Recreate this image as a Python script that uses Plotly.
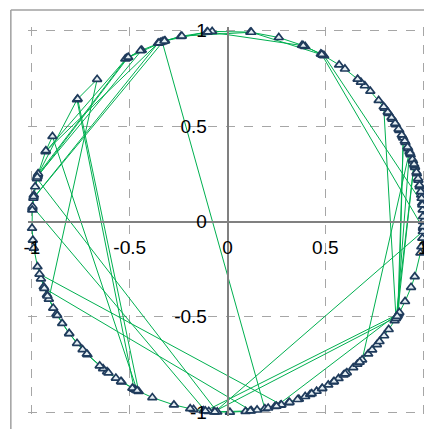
import math
import plotly.graph_objects as go

# angles (degrees) of successive points on the unit circle
angles_deg = [
    109.2, 173.0, 110.8, 158.5, 121.0, 165.8, 140.3, 241.5, 243.0, 140.0, 131.8,
    204.0, 200.0, 197.5, 193.7, 188.0, 185.6, 182.0, 176.0, 172.0, 166.2,
    116.0, 121.5, 110.0, 108.6, 103.8, 96.0, 94.5, 83.3, 74.8, 67.6, 66.6, 61.5, 60.4,
    5.5, 8.0, 10.5, 12.5, 14.5, 16.5, 18.5, 20.5, 22.5, 24.5, 26.5, 28.5, 30.5, 32.5, 34.5, 36.5,
    39.4, 43.1, 45.4, 47.0, 48.3, 53.1, 55.2, 60.8, 83.0, 103.5, 109.5,
    281.0, 282.0, 284.0, 285.7, 288.2, 291.4, 293.4, 295.0, 297.1, 298.9, 301.0, 302.8, 304.6,
    306.4, 307.6, 310.0, 311.6, 313.5,
    21.5, 330.0, 266.0, 264.5, 263.0, 260.0, 259.0, 254.1, 247.4, 242.0, 240.9, 237.2, 235.2,
    232.0, 230.5, 229.2, 224.3, 222.2, 219.7, 215.9, 212.3, 209.0, 207.0, 202.6, 200.5,
    277.0, 275.3, 270.7, 267.0, 167.0, 169.5, 165.5, 158.2, 153.5,
    242.5, 237.0, 232.5, 224.0, 216.0, 209.5, 203.0, 196.0,
    286.0, 288.5, 291.0, 295.5, 299.0, 303.0, 307.0, 312.5, 316.0, 317.7, 319.8, 321.0, 323.2,
    325.5, 328.7, 330.5,
    26.0, 331.0, 263.5, 175.5, 176.5, 172.5, 166.5,
    120.5, 116.4, 110.5, 108.8, 95.8, 67.2, 61.2,
    358.0, 355.0, 352.4, 350.5, 343.2, 339.8, 335.2, 331.5, 284.5, 278.7, 276.7, 266.3,
    357.0, 358.5, 0.0, 1.5, 3.5, 5.0, 7.0, 9.0, 11.0, 13.0, 15.0, 17.0, 19.0, 21.0, 23.0,
    25.0, 27.0, 29.0, 31.0, 33.0, 35.0, 37.0,
    329.5, 17.5, 330.2,
]

tick_vals = [-1, -0.5, 0, 0.5, 1]
tick_text = ["-1", "-0.5", "0", "0.5", "1"]

xs = [math.cos(math.radians(a)) for a in angles_deg]
ys = [math.sin(math.radians(a)) for a in angles_deg]

fig = go.Figure()
fig.add_trace(go.Scatter(
    x=xs, y=ys, mode="lines+markers",
    line=dict(color="#00B050", width=1),
    marker=dict(symbol="triangle-up", size=8, color="#E6EFF3",
                line=dict(color="#1F3B5C", width=1.7)),
    cliponaxis=False, showlegend=False, hoverinfo="skip",
))

font = dict(family="Liberation Sans, Arial, sans-serif", size=19, color="#000000")
axis_common = dict(
    range=[-1.02, 1.02], tickvals=tick_vals, ticktext=tick_text,
    showgrid=True, gridcolor="#A6A6A6", griddash="dash", gridwidth=1,
    zeroline=False, showline=True, linecolor="#808080", linewidth=1.6,
    anchor="free", position=0.5, ticks="", tickfont=font,
)
# the page body adds an 8px offset; the figure is sized to fit the 432x429 window
fig.update_layout(
    width=424, height=421,
    margin=dict(l=20, r=5, t=19, b=13),
    paper_bgcolor="#FFFFFF", plot_bgcolor="#FFFFFF",
    xaxis=dict(**axis_common, ticklabelstandoff=9),
    yaxis=dict(**axis_common, ticklabelstandoff=16),
    shapes=[
        dict(type="line", xref="paper", yref="paper", x0=-0.043, x1=-0.043, y0=-0.05, y1=1.0435,
             line=dict(color="#A0A0A0", width=1.5)),
        dict(type="line", xref="paper", yref="paper", x0=-0.043, x1=1.05, y0=1.0435, y1=1.0435,
             line=dict(color="#A0A0A0", width=1.5)),
    ],
)
fig.write_html("out.html")
